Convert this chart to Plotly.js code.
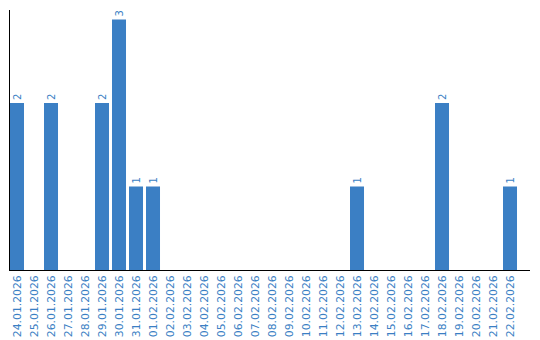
<!DOCTYPE html>
<html>
<head>
<meta charset="utf-8">
<script src="https://cdn.plot.ly/plotly-3.0.1.min.js"></script>
<style>html,body{margin:0;padding:0;background:#fff}#chart{width:540px;height:340px}</style>
</head>
<body>
<div id="chart"></div>
<script>
const categories = ["24.01.2026","25.01.2026","26.01.2026","27.01.2026","28.01.2026","29.01.2026","30.01.2026","31.01.2026","01.02.2026","02.02.2026","03.02.2026","04.02.2026","05.02.2026","06.02.2026","07.02.2026","08.02.2026","09.02.2026","10.02.2026","11.02.2026","12.02.2026","13.02.2026","14.02.2026","15.02.2026","16.02.2026","17.02.2026","18.02.2026","19.02.2026","20.02.2026","21.02.2026","22.02.2026"];
const values = [2,0,2,0,0,2,3,1,1,0,0,0,0,0,0,0,0,0,0,0,1,0,0,0,0,2,0,0,0,1];
const labels = values.map(v => v > 0 ? String(v) : "");
const blue = "#3b7fc4";

Plotly.newPlot("chart", [{
  type: "bar",
  x: categories,
  y: values,
  text: labels,
  textposition: "outside",
  textangle: -90,
  cliponaxis: false,
  textfont: {family: "DejaVu Sans, Verdana, sans-serif", size: 10, color: blue},
  marker: {color: blue},
  hoverinfo: "none"
}], {
  width: 540, height: 340,
  margin: {l: 10, r: 10, t: 10, b: 70},
  paper_bgcolor: "#fff", plot_bgcolor: "#fff",
  showlegend: false,
  bargap: 0.176,
  font: {family: "DejaVu Sans, Verdana, sans-serif", size: 10, color: blue},
  xaxis: {
    type: "category",
    range: [-0.4118, 30.176],
    tickangle: -90,
    showgrid: false, zeroline: false,
    showline: true, linecolor: "#000", linewidth: 1,
    ticks: "", ticklen: 0,
    tickfont: {family: "DejaVu Sans, Verdana, sans-serif", size: 10.8, color: blue}
  },
  yaxis: {
    range: [0, 3.114],
    showgrid: false, zeroline: false,
    showline: true, linecolor: "#000", linewidth: 1,
    showticklabels: false, ticks: ""
  }
}, {displayModeBar: false, staticPlot: true});
</script>
</body>
</html>
